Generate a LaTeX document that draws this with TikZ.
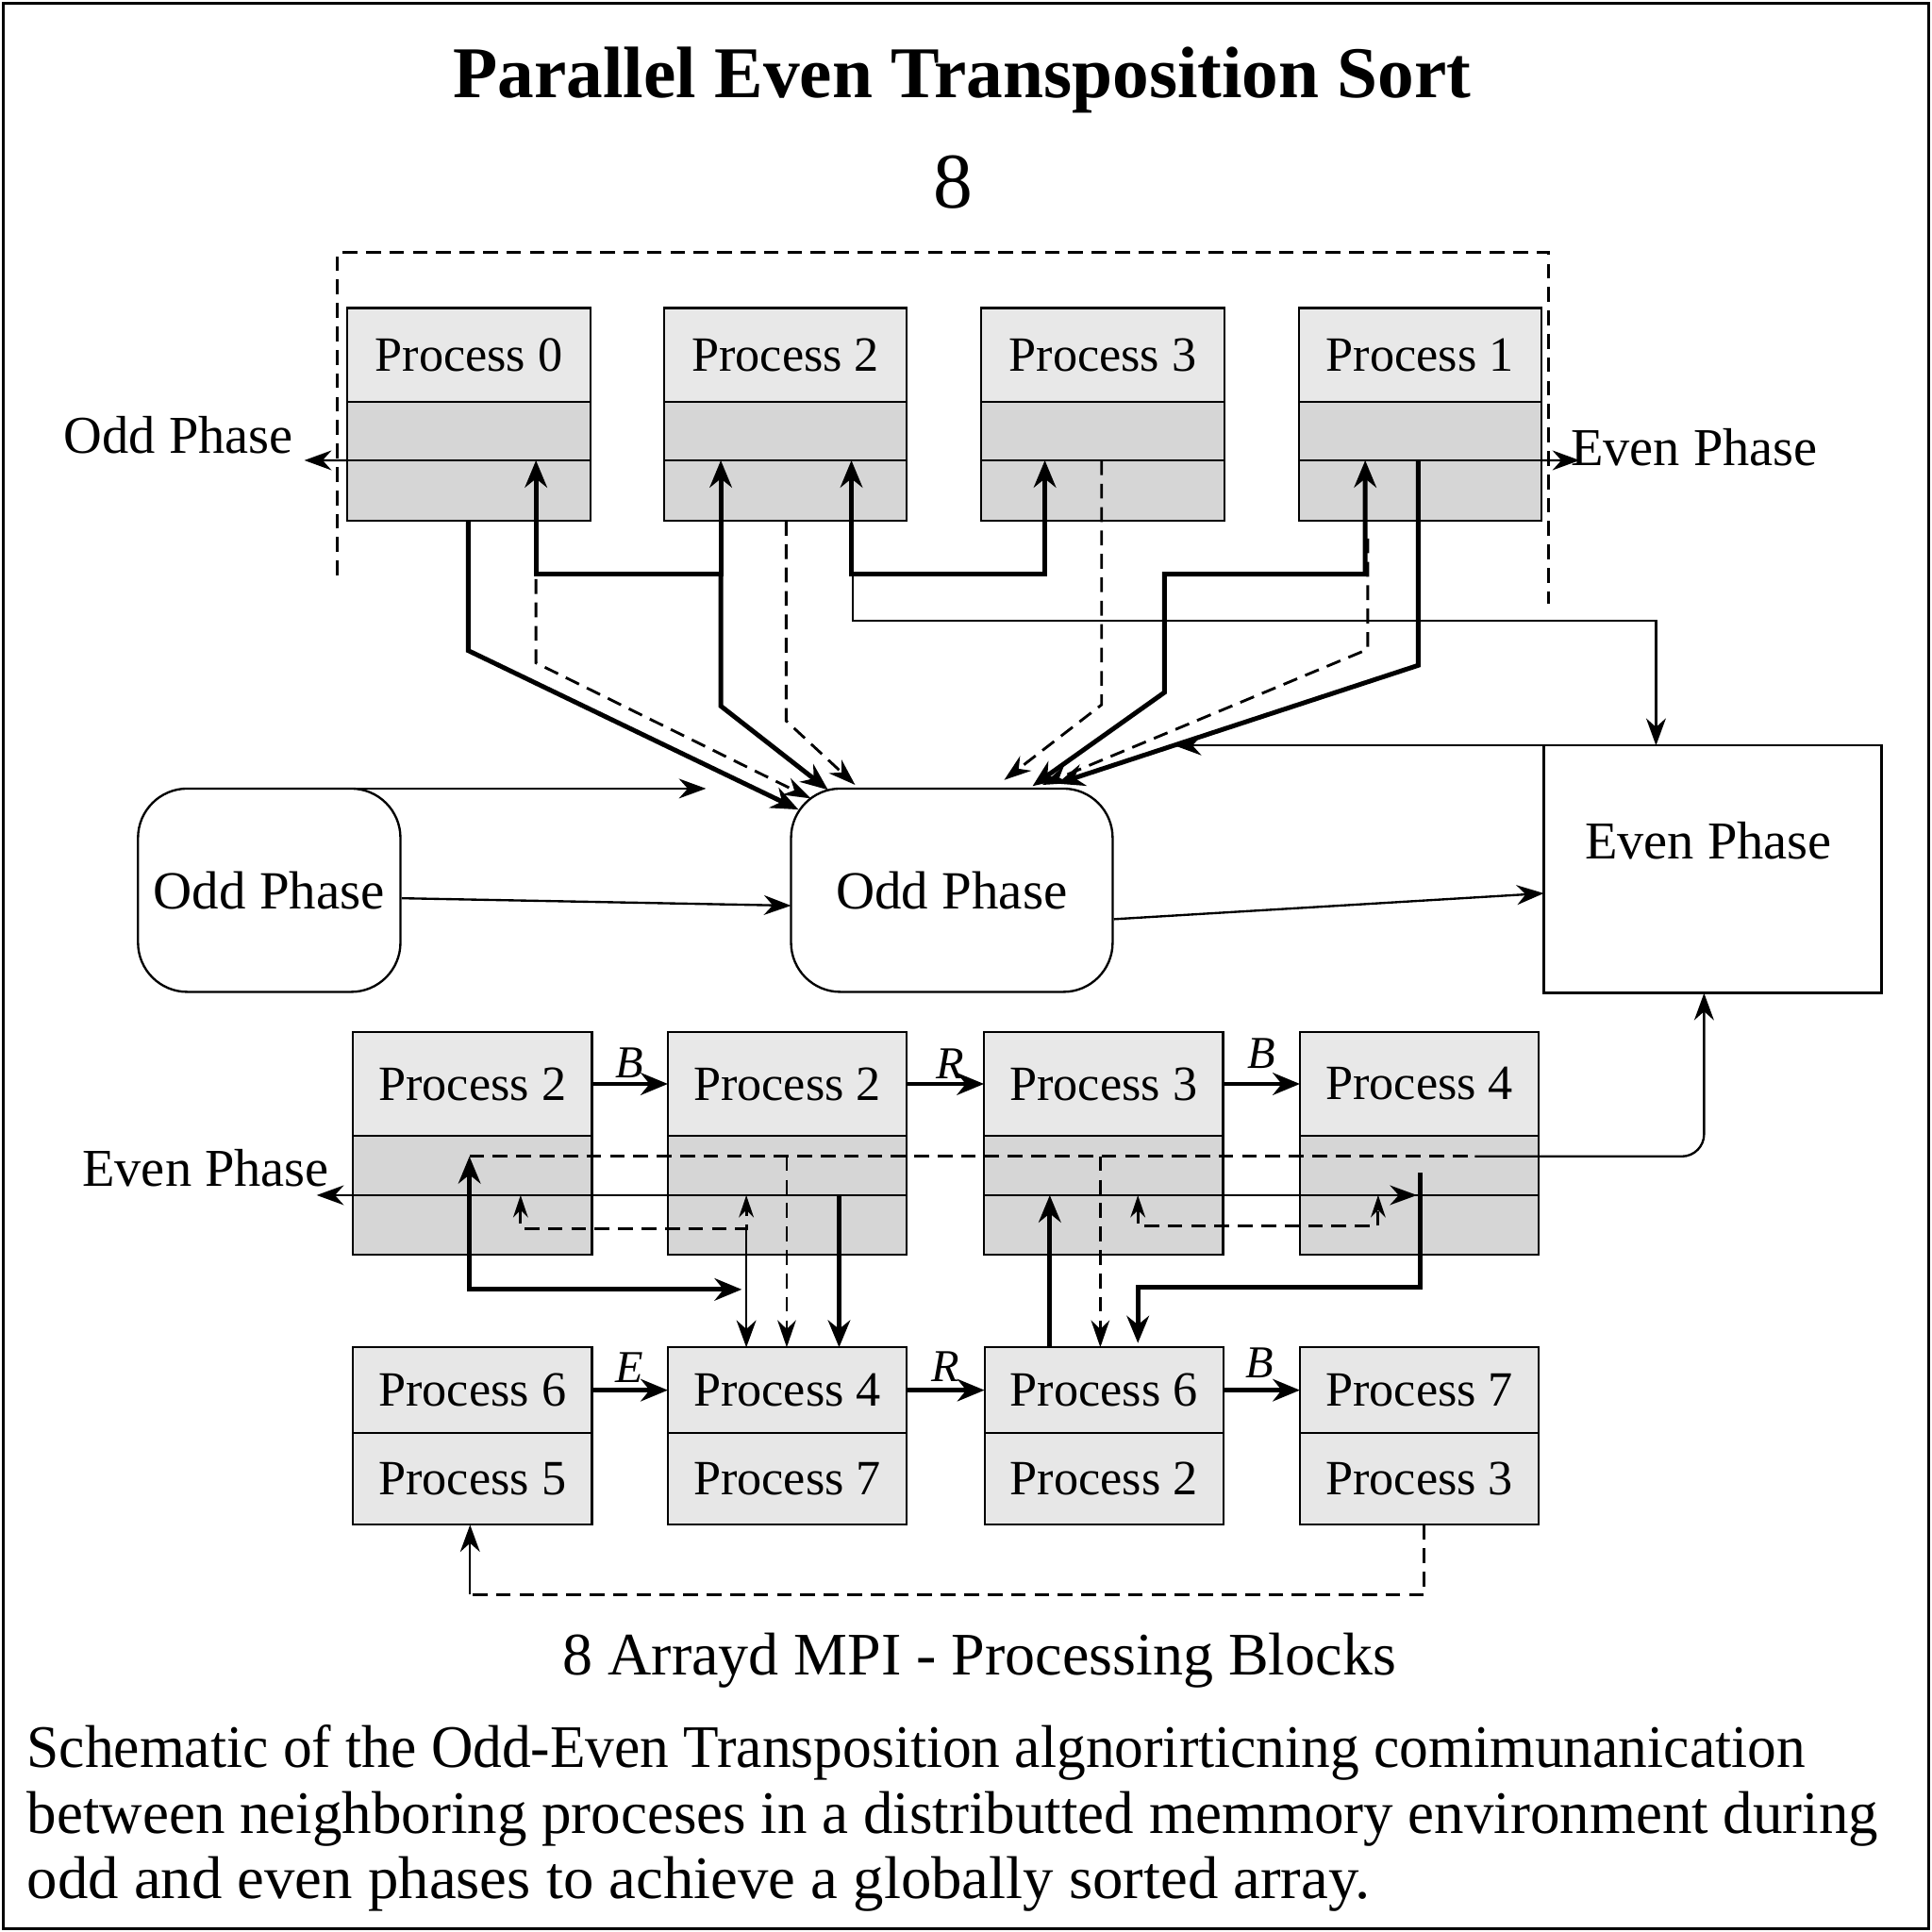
\documentclass[tikz,border=0pt]{standalone}
\usepackage{fontspec}
\setmainfont{Liberation Serif}
\usetikzlibrary{arrows.meta,calc}
\definecolor{secA}{gray}{0.91}
\definecolor{secB}{gray}{0.84}
\definecolor{secC}{gray}{0.905}
\begin{document}
\begin{tikzpicture}[x=0.5pt,y=-0.5pt,
  every node/.style={outer sep=0pt},
  boxA/.style={draw=black, line width=0.8pt, fill=secA, inner sep=0pt, font=\fontsize{20}{24}\selectfont},
  boxB/.style={draw=black, line width=0.8pt, fill=secB, inner sep=0pt},
  boxC/.style={draw=black, line width=0.8pt, fill=secC, inner sep=0pt, font=\fontsize{20}{24}\selectfont},
  rowone/.style={minimum width=98.5pt},
  rowtwo/.style={minimum width=97pt},
  phl/.style={font=\fontsize{21.6}{26}\selectfont, inner sep=0pt},
  itl/.style={font=\fontsize{18.5}{22}\selectfont\itshape, inner sep=0pt},
  bignode/.style={draw=black, line width=0.9pt, inner sep=0pt, font=\fontsize{21.8}{25}\selectfont},
  captxt/.style={font=\fontsize{24.5}{28}\selectfont, anchor=base west, inner sep=0pt},
  thk/.style={line width=1.9pt, -{Stealth[length=11pt,width=9pt]}},
  thktwo/.style={line width=1.9pt, {Stealth[length=11pt,width=9pt]}-{Stealth[length=11pt,width=9pt]}},
  thn/.style={line width=0.9pt, -{Stealth[length=11pt,width=8pt]}},
  dsh/.style={line width=1.1pt, dash pattern=on 6pt off 3.5pt, -{Stealth[length=11pt,width=7.5pt]}},
  dshtwo/.style={line width=1.1pt, dash pattern=on 6pt off 3.5pt, {Stealth[length=9pt,width=6pt]}-{Stealth[length=9pt,width=6pt]}},
  dshplain/.style={line width=1.1pt, dash pattern=on 6pt off 3.5pt}
]
\useasboundingbox (0,0) rectangle (1568,1568);
\draw[line width=1.1pt] (2.5,2.5) rectangle (1565.5,1565.5);

% titles
\node[font=\fontsize{29.6}{34}\selectfont\bfseries, anchor=base, inner sep=0pt] (title) at (781,79) {Parallel Even Transposition Sort};
\node[font=\fontsize{32}{36}\selectfont, anchor=base, inner sep=0pt] (eight) at (773.5,168.5) {8};

% dashed group frame
\draw[dshplain] (274,467) -- (274,205) -- (1257,205) -- (1257,490);

% ---- top row ----
\node[boxA, rowone, minimum height=38pt, anchor=north west] (p0) at (282,250) {Process 0};
\node[boxB, rowone, minimum height=23.8pt, anchor=north] (p0m) at (p0.south) {};
\node[boxB, rowone, minimum height=24.5pt, anchor=north] (p0b) at (p0m.south) {};
\node[boxA, rowone, minimum height=38pt, anchor=north west] (p2) at (539,250) {Process 2};
\node[boxB, rowone, minimum height=23.8pt, anchor=north] (p2m) at (p2.south) {};
\node[boxB, rowone, minimum height=24.5pt, anchor=north] (p2b) at (p2m.south) {};
\node[boxA, rowone, minimum height=38pt, anchor=north west] (p3) at (796.5,250) {Process 3};
\node[boxB, rowone, minimum height=23.8pt, anchor=north] (p3m) at (p3.south) {};
\node[boxB, rowone, minimum height=24.5pt, anchor=north] (p3b) at (p3m.south) {};
\node[boxA, rowone, minimum height=38pt, anchor=north west] (p1) at (1054,250) {Process 1};
\node[boxB, rowone, minimum height=23.8pt, anchor=north] (p1m) at (p1.south) {};
\node[boxB, rowone, minimum height=24.5pt, anchor=north] (p1b) at (p1m.south) {};

% ---- middle nodes ----
\node[bignode, rounded corners=20pt, minimum width=106.5pt, minimum height=82.5pt, anchor=north west] (lodd) at (112,640) {Odd Phase};
\node[bignode, rounded corners=20pt, minimum width=130.5pt, minimum height=82.5pt, anchor=north west] (codd) at (642,640) {Odd Phase};
\node[bignode, minimum width=137pt, minimum height=100.35pt, anchor=north west] (ebox) at (1253,605) {};
\node[phl] (elabel) at (1386.5,682) {Even Phase};

% ---- second row ----
\node[boxA, rowtwo, minimum height=42pt, anchor=north west] (ra) at (286.4,837.7) {Process 2};
\node[boxB, rowtwo, minimum height=24pt, anchor=north] (ram) at (ra.south) {};
\node[boxB, rowtwo, minimum height=24.2pt, anchor=north] (rab) at (ram.south) {};
\node[boxA, rowtwo, minimum height=42pt, anchor=north west] (rb) at (542,837.7) {Process 2};
\node[boxB, rowtwo, minimum height=24pt, anchor=north] (rbm) at (rb.south) {};
\node[boxB, rowtwo, minimum height=24.2pt, anchor=north] (rbb) at (rbm.south) {};
\node[boxA, rowtwo, minimum height=42pt, anchor=north west] (rc) at (798.6,837.7) {Process 3};
\node[boxB, rowtwo, minimum height=24pt, anchor=north] (rcm) at (rc.south) {};
\node[boxB, rowtwo, minimum height=24.2pt, anchor=north] (rcb) at (rcm.south) {};
\node[boxA, rowtwo, minimum height=42pt, anchor=north west] (rd) at (1055,837.7) {Process 4};
\node[boxB, rowtwo, minimum height=24pt, anchor=north] (rdm) at (rd.south) {};
\node[boxB, rowtwo, minimum height=24.2pt, anchor=north] (rdb) at (rdm.south) {};

% ---- third row ----
\node[boxC, rowtwo, minimum height=34.75pt, anchor=north west] (sa) at (286.4,1093.5) {Process 6};
\node[boxC, rowtwo, minimum height=37.25pt, anchor=north] (sab) at (sa.south) {Process 5};
\node[boxC, rowtwo, minimum height=34.75pt, anchor=north west] (sb) at (542,1093.5) {Process 4};
\node[boxC, rowtwo, minimum height=37.25pt, anchor=north] (sbb) at (sb.south) {Process 7};
\node[boxC, rowtwo, minimum height=34.75pt, anchor=north west] (sc) at (799,1093.5) {Process 6};
\node[boxC, rowtwo, minimum height=37.25pt, anchor=north] (scb) at (sc.south) {Process 2};
\node[boxC, rowtwo, minimum height=34.75pt, anchor=north west] (sd) at (1055,1093.5) {Process 7};
\node[boxC, rowtwo, minimum height=37.25pt, anchor=north] (sdb) at (sd.south) {Process 3};

% ---- top connectors ----
\draw[thn] (p0b.north west) -- (247,373.6);
\node[phl] (oddl) at (145,353) {Odd Phase};
\draw[thn] (p1b.north east) -- (1282,373.6);
\node[phl] (evenr) at (1375,363) {Even Phase};

\draw[thk] (380,422.7) -- (380,528) -- (648,657);
\draw[thktwo] (435,373.6) -- (435,466) -- (585,466) -- (585,373.6);
\draw[thk] (585,466) -- (585,573) -- (672,641);
\draw[dsh] (435,470) -- (435,538) -- (658,648);
\draw[dsh] (638,422.7) -- (638,585) -- (694,637);
\draw[thktwo] (691,373.6) -- (691,466) -- (848,466) -- (848,373.6);
\draw[thn] (692,466) -- (692,504) -- (1344,504) -- (1344,605);
\draw[dsh] (894,373.6) -- (894,572) -- (815,633);
\draw[thktwo] (1108,373.6) -- (1108,466) -- (945,466) -- (945,562) -- (838,638);
\draw[dsh] (1110,437) -- (1110,527) -- (846,637);
\draw[thk] (1151,373.6) -- (1151,540) -- (858,636);
\draw[thn] (ebox.north west) -- (953,605);

% ---- middle connectors ----
\draw[thn] (lodd.north) -- (573,640);
\draw[thn] (326,729) -- (642,735);
\draw[thn] (904,746) -- (1253,725);

% ---- lower connectors ----
\draw[dshplain] (381,938.5) -- (1197,938.5);
\draw[thn, rounded corners=9pt] (1197,938.5) -- (1383,938.5) -- (1383,806);
\draw[thn] (681,970) -- (257,970);
\node[phl] (evenl) at (167,948) {Even Phase};
\draw[thk] (681,970) -- (681,1093.5);
\draw[thktwo] (381,938.5) -- (381,1046.5) -- (602,1046.5);
\draw[thn] (605.7,997) -- (605.7,1093.5);
\draw[dshtwo] (422.5,970) -- (422.5,997) -- (605.7,997) -- (605.7,970);
\draw[dsh] (638.5,938.5) -- (638.5,1093.5);
\draw[thk] (852,1093.5) -- (852,970);
\draw[dsh] (893,938.5) -- (893,1093.5);
\draw[dshtwo] (923.5,970) -- (923.5,995) -- (1118.5,995) -- (1118.5,970);
\draw[thn] (852,970) -- (1150,970);
\draw[thk] (1152.5,952) -- (1152.5,1045) -- (923.5,1045) -- (923.5,1090);

% row arrows
\draw[thk] (ra.east) -- (rb.west);
\draw[thk] (rb.east) -- (rc.west);
\draw[thk] (rc.east) -- (rd.west);
\node[itl] (lb1) at (511,863) {B};
\node[itl] (lb2) at (771,863) {R};
\node[itl] (lb3) at (1024,855) {B};
\draw[thk] (sa.east) -- (sb.west);
\draw[thk] (sb.east) -- (sc.west);
\draw[thk] (sc.east) -- (sd.west);
\node[itl] (lb4) at (511,1110) {E};
\node[itl] (lb5) at (767,1109) {R};
\node[itl] (lb6) at (1022,1106) {B};

% bottom return
\draw[dshplain] (sdb.south -| 1156,0) -- (1156,1294) -- (381.5,1294);
\draw[thn] (381.5,1294) -- (sab.south -| 381.5,0);

% texts
\node[font=\fontsize{24.5}{28}\selectfont, anchor=base, inner sep=0pt] (sub) at (795,1359) {8 Arrayd MPI - Processing Blocks};
\node[captxt] (cap1) at (22,1434) {\scalebox{0.96}[1]{Schematic of the Odd-Even Transposition algnorirticning comimunanication}};
\node[captxt] (cap2) at (22,1488) {\scalebox{0.984}[1]{between neighboring proceses in a distributted memmory environment during}};
\node[captxt] (cap3) at (22,1541) {\scalebox{1.012}[1]{odd and even phases to achieve a globally sorted array.}};
\end{tikzpicture}
\end{document}
